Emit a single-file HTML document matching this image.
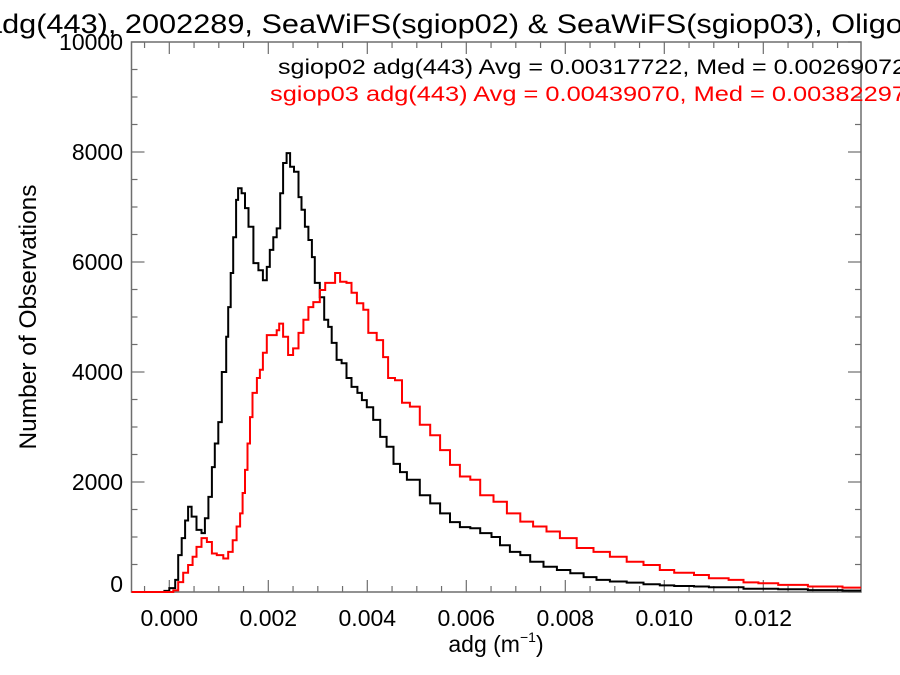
<!DOCTYPE html>
<html><head><meta charset="utf-8"><style>
html,body{margin:0;padding:0;background:#fff;overflow:hidden}
svg{display:block;font-family:"Liberation Sans",Arial,sans-serif}
</style></head><body>
<svg id="chart" width="900" height="675" viewBox="0 0 900 675" xmlns="http://www.w3.org/2000/svg">
<rect x="0" y="0" width="900" height="675" fill="#fff"/>
<text x="-15" y="33" font-size="27" fill="#000" textLength="1010" lengthAdjust="spacingAndGlyphs">adg(443), 2002289, SeaWiFS(sgiop02) &amp; SeaWiFS(sgiop03), Oligotrophic</text>
<g id="axes"></g>
<g id="series"></g>
<text x="278" y="74" font-size="21" fill="#000" textLength="628" lengthAdjust="spacingAndGlyphs">sgiop02 adg(443) Avg = 0.00317722, Med = 0.00269072</text>
<text x="270" y="101" font-size="21" fill="#ff0000" textLength="636" lengthAdjust="spacingAndGlyphs">sgiop03 adg(443) Avg = 0.00439070, Med = 0.00382297</text>
<text transform="translate(36,317) rotate(-90)" text-anchor="middle" font-size="24" fill="#000" textLength="265" lengthAdjust="spacingAndGlyphs">Number of Observations</text>
<text x="496" y="652" text-anchor="middle" font-size="23" fill="#000">adg (m<tspan font-size="14" dy="-10">−1</tspan><tspan dy="10">)</tspan></text>
</svg>
<script>
const xTicks = [0.000, 0.002, 0.004, 0.006, 0.008, 0.010, 0.012];
const xTickLabels = ["0.000","0.002","0.004","0.006","0.008","0.010","0.012"];
const yTicks = [0, 2000, 4000, 6000, 8000, 10000];
const yTickLabels = ["0","2000","4000","6000","8000","10000"];
const blackX = [-0.0008,-0.0002,-0.0001,0,0.00012,0.00018,0.00025,0.00032,0.00038,0.00045,0.00055,0.00065,0.00072,0.00079,0.00086,0.00092,0.00099,0.00106,0.00115,0.00119,0.00124,0.00129,0.00135,0.00139,0.00146,0.00153,0.0016,0.0017,0.0018,0.00189,0.00197,0.00203,0.0021,0.00217,0.00224,0.0023,0.00237,0.00244,0.00252,0.00261,0.00267,0.00274,0.00281,0.00288,0.00294,0.00304,0.00313,0.00321,0.00328,0.00338,0.00348,0.00358,0.00368,0.0038,0.00389,0.00399,0.00412,0.00426,0.00439,0.00453,0.00466,0.0048,0.00506,0.00527,0.00547,0.00567,0.00587,0.00608,0.00628,0.00651,0.00668,0.00688,0.00709,0.00729,0.00756,0.00783,0.0081,0.00837,0.00863,0.0089,0.00924,0.00958,0.00991,0.0102,0.0106,0.0109,0.0116,0.0123,0.0129,0.0136];
const blackCounts = [0,0,20,70,220,670,980,1300,1550,1370,1130,1070,1340,1730,2270,2700,3090,4000,4640,5180,5800,6450,7130,7340,7250,6980,6640,5980,5850,5670,5910,6220,6450,6610,7250,7800,7980,7730,7640,7180,6950,6640,6400,6090,5620,5360,4950,4820,4530,4220,4160,3890,3730,3620,3490,3360,3130,2820,2640,2330,2180,2040,1760,1610,1430,1270,1180,1160,1070,1000,850,730,670,550,460,400,340,270,220,190,170,140,120,110,100,85,60,50,35,25];
const redX = [-0.0008,-0.0001,0.00008,0.00018,0.00028,0.00038,0.00047,0.00055,0.00065,0.00076,0.00086,0.00096,0.00109,0.00119,0.00128,0.00136,0.00143,0.00148,0.00153,0.00158,0.00163,0.00168,0.00177,0.00183,0.00189,0.00197,0.00207,0.00217,0.00222,0.0023,0.0024,0.0025,0.00261,0.00271,0.00281,0.00291,0.00304,0.00315,0.00325,0.00335,0.00345,0.00358,0.00368,0.00379,0.00392,0.00402,0.00419,0.00432,0.00442,0.00456,0.0047,0.00486,0.00506,0.00527,0.00547,0.00567,0.00587,0.00608,0.00628,0.00655,0.00682,0.00709,0.00735,0.00762,0.00789,0.00823,0.00857,0.0089,0.00924,0.00958,0.00991,0.0102,0.0106,0.0109,0.0113,0.0116,0.0119,0.0123,0.0129,0.0136];
const redCounts = [0,0,30,180,350,490,640,820,980,910,700,670,610,730,940,1190,1430,1800,2220,2700,3180,3620,3890,4040,4350,4670,4670,4760,4880,4640,4310,4430,4710,4950,5180,5270,5490,5620,5620,5800,5640,5620,5440,5250,5130,4710,4580,4270,3890,3850,3440,3370,3040,2850,2580,2310,2100,2040,1760,1640,1430,1280,1190,1100,980,800,730,640,550,490,400,350,310,250,220,175,160,130,100,80];

const L=131.5, R=861, T=42, B=592, YMAX=10000;
const xScale = v => 169.3 + (v/0.002)*99;
const yScale = v => B - (v/YMAX)*(B-T);
const NS="http://www.w3.org/2000/svg";
const axes=document.getElementById('axes');
function mk(tag,attrs,parent){const e=document.createElementNS(NS,tag);for(const k in attrs)e.setAttribute(k,attrs[k]);parent.appendChild(e);return e;}

const frame=mk('rect',{x:L,y:T,width:R-L,height:B-T,fill:'none',stroke:'#6e6e6e','stroke-width':1.5},axes);



for(let k=-1;k<=27;k++){
  const v=k*0.0005; const x=xScale(v);
  if(x<L||x>R) continue;
  const major=(k%4===0); const len=major?12:6;
  const t1=mk('line',{x1:x,x2:x,y1:B,y2:B-len,stroke:'#6e6e6e','stroke-width':1.2},axes);
  
  
  const t2=mk('line',{x1:x,x2:x,y1:T,y2:T+len,stroke:'#6e6e6e','stroke-width':1.2},axes);
  
  
}
xTicks.forEach((v,i)=>{
  const t=mk('text',{x:xScale(v),y:626,'text-anchor':'middle','font-size':23,fill:'#000'},axes);
  t.textContent=xTickLabels[i];
  
  
});
for(let k=0;k<=20;k++){
  const v=k*500; const y=yScale(v);
  const major=(k%4===0); const len=major?13:6;
  const t1=mk('line',{x1:L,x2:L+len,y1:y,y2:y,stroke:'#6e6e6e','stroke-width':1.2},axes);
  
  
  const t2=mk('line',{x1:R,x2:R-len,y1:y,y2:y,stroke:'#6e6e6e','stroke-width':1.2},axes);
  
  
}
yTicks.forEach((v,i)=>{
  const t=mk('text',{x:123,y:yScale(v)+(v===0?0:8),'text-anchor':'end','font-size':23,fill:'#000'},axes);
  t.textContent=yTickLabels[i];
  
  
});

const series=document.getElementById('series');
function stepPath(xs,ys){
  let d='';
  for(let i=0;i<xs.length;i++){
    const x0=Math.max(L,xScale(xs[i]));
    const x1=i+1<xs.length?xScale(xs[i+1]):R;
    const y=yScale(ys[i]);
    d+=(i===0?'M':'L')+x0.toFixed(1)+','+y.toFixed(1)+'L'+Math.min(R,x1).toFixed(1)+','+y.toFixed(1);
  }
  return d;
}
const pb=mk('path',{d:stepPath(blackX,blackCounts),fill:'none',stroke:'#000','stroke-width':2},series);


const pr=mk('path',{d:stepPath(redX,redCounts),fill:'none',stroke:'#ff0000','stroke-width':2},series);


</script>
</body></html>
